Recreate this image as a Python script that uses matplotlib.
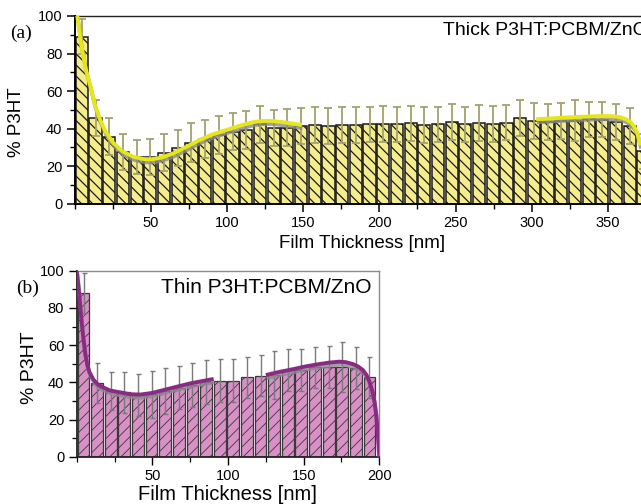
import numpy as np
import matplotlib
matplotlib.use("Agg")
import matplotlib.pyplot as plt
import matplotlib.patheffects as pe
from matplotlib.ticker import MultipleLocator

# ---------------- data ----------------
bin_width = 9.0
# (a) thick film
thick_vals = [89, 45.5, 35.7, 27.5, 24.8, 25, 27.2, 29.5, 32.5, 34.5,
              36.6, 38.4, 39.3, 42.3, 40.5, 40.5, 41.4, 41.9, 41.4, 41.9,
              41.9, 42.3, 42.6, 42.3, 42.8, 41.8, 42.3, 43.4, 42.3, 42.8,
              42.5, 43.2, 45.5, 44.2, 43.7, 44.1, 44.2, 45.0, 44.8, 43.7,
              41.6, 27.9]
thick_err = [9.4, 9.5, 9.8, 9.5, 9.2, 9.5, 9.8, 9.5, 10.5, 10.1,
             10.1, 9.9, 9.9, 9.7, 9.6, 9.7, 9.8, 9.8, 9.4, 9.7,
             9.7, 9.4, 9.5, 9.4, 9.5, 9.6, 9.4, 9.6, 9.4, 9.6,
             9.7, 9.4, 9.6, 9.6, 9.6, 9.7, 11.0, 9.3, 9.5, 9.6,
             9.6, 9.5]
thick_fit1_x = [1.5, 4, 7, 10, 13, 16.4, 20, 25, 31, 38.3, 45, 50, 57, 64.6,
                72, 82, 90, 100.7, 110, 118, 124, 129, 135, 142, 149]
thick_fit1_y = [100, 85, 72, 63, 53, 45, 38.5, 32.5, 28, 25, 23.8, 23.6, 24.6,
                26.8, 29.8, 34.0, 36.8, 39.6, 42.0, 43.6, 44.1, 44.1, 43.6,
                42.8, 41.9]
thick_fit2_x = [303, 314, 324, 335, 346, 353, 358, 362, 365, 367.5, 369.5, 371.5]
thick_fit2_y = [45.0, 45.5, 46.0, 46.4, 46.7, 46.6, 46.1, 45.0, 43.5, 41.0, 37.5, 31.0]

# (b) thin film
thin_vals = [87.8, 39.5, 35.3, 34.6, 33.2, 33.5, 35.3, 37.1, 38.5, 40.3,
             40.9, 40.9, 42.7, 43.6, 43.9, 46.6, 46.6, 48.1, 48.1, 48.4,
             47.5, 42.7]
thin_err = [10.8, 10.7, 10.4, 11.1, 11.1, 12.6, 12.6, 11.7, 12.0, 11.7,
            11.5, 11.5, 11.1, 11.1, 12.9, 11.1, 11.1, 11.0, 11.4, 13.4,
            11.3, 11.1]
thin_fit1_x = [0, 1.2, 2.2, 3.3, 4.4, 5.7, 7, 8.4, 11, 14, 17.7, 22, 28.7, 35,
               42, 50, 59.7, 67, 75, 82, 90.5]
thin_fit1_y = [100, 91, 82, 72, 63.6, 55, 49.3, 45.5, 41.5, 38.8, 37.2, 35.6,
               34.6, 33.6, 33.4, 34.3, 36.3, 37.8, 39.4, 40.5, 41.8]
thin_fit2_x = [125, 134, 142.7, 151, 160.3, 167, 173.6, 178, 182.5, 186,
               189.1, 191.5, 193.5, 195.3, 196.8, 198, 199, 199.6, 200]
thin_fit2_y = [43.9, 45.6, 47.0, 48.5, 49.8, 50.6, 51.1, 50.8, 49.8, 48.5,
               46.6, 44.0, 40.3, 35.5, 29.6, 22, 12, 5, 0]

thick_x = [bin_width / 2 + bin_width * i for i in range(len(thick_vals))]
thin_x = [bin_width / 2 + bin_width * i for i in range(len(thin_vals))]

# ---------------- figure ----------------
plt.rcParams['font.family'] = ['Liberation Sans', 'DejaVu Sans']
fig = plt.figure(figsize=(6.41, 5.04), dpi=100)

W, H = 641.0, 504.0

def ax_at(x0, x1, ytop, ybot):
    return fig.add_axes([x0 / W, 1 - ybot / H, (x1 - x0) / W, (ybot - ytop) / H])

shadow = [pe.SimpleLineShadow(offset=(0.5, -2.2), shadow_color='#8a8a8a', alpha=0.8),
          pe.Normal()]

# --- panel (a) ---
ax1 = ax_at(75, 75 + 380 * 1.522, 16, 203.7)
with plt.rc_context({'hatch.linewidth': 0.9}):
    ax1.bar(thick_x, thick_vals, width=8.0, color='#f5ed8c', edgecolor='#1a1a1a',
            linewidth=1.1, hatch='\\\\\\', zorder=2)
ax1.errorbar(thick_x, thick_vals, yerr=thick_err, fmt='none', ecolor='#a3a36c',
             elinewidth=1.3, capsize=3.2, capthick=1.3, zorder=3)
for fx, fy in [(thick_fit1_x, thick_fit1_y), (thick_fit2_x, thick_fit2_y)]:
    ax1.plot(fx, fy, color='#e6e619', lw=2.8, solid_capstyle='butt', zorder=4,
             path_effects=shadow)
ax1.set_xlim(0, 380)
ax1.set_ylim(0, 100)
ax1.xaxis.set_minor_locator(MultipleLocator(25))
ax1.yaxis.set_major_locator(MultipleLocator(20))
ax1.yaxis.set_minor_locator(MultipleLocator(10))
ax1.set_xticks([50, 100, 150, 200, 250, 300, 350])
ax1.tick_params(axis='both', which='major', direction='out', length=6, width=1.1,
                labelsize=10.5, pad=3)
ax1.tick_params(axis='both', which='minor', direction='out', length=3.5, width=1.0)
ax1.spines['right'].set_visible(False)
for s in ['left', 'bottom']:
    ax1.spines[s].set_linewidth(1.4)
    ax1.spines[s].set_color('black')
ax1.spines['top'].set_linewidth(1.0)
ax1.spines['top'].set_color('#222222')
ax1.text(241.6, 92.5, 'Thick P3HT:PCBM/ZnO', fontsize=14, ha='left', va='center',
         clip_on=False)

# --- panel (b) ---
ax2 = ax_at(76.7, 379.3, 270.7, 456.7)
with plt.rc_context({'hatch.linewidth': 0.6}):
    ax2.bar(thin_x, thin_vals, width=7.8, color='#d890c6', edgecolor='#3a3a3a',
            linewidth=0.9, hatch='///', zorder=2)
ax2.errorbar(thin_x, thin_vals, yerr=thin_err, fmt='none', ecolor='#7a7a7a',
             elinewidth=1.0, capsize=1.8, capthick=1.0, zorder=3)
for fx, fy in [(thin_fit1_x, thin_fit1_y), (thin_fit2_x, thin_fit2_y)]:
    ax2.plot(fx, fy, color='#8b2a84', lw=2.8, solid_capstyle='butt', zorder=4,
             path_effects=shadow)
ax2.set_xlim(0, 200)
ax2.set_ylim(0, 100)
ax2.set_xticks([50, 100, 150, 200])
ax2.xaxis.set_minor_locator(MultipleLocator(25))
ax2.yaxis.set_major_locator(MultipleLocator(20))
ax2.yaxis.set_minor_locator(MultipleLocator(10))
ax2.tick_params(axis='both', which='major', direction='out', length=6, width=1.0,
                labelsize=10.5, pad=3)
ax2.tick_params(axis='both', which='minor', direction='out', length=3.5, width=0.9)
for s in ['left', 'bottom']:
    ax2.spines[s].set_linewidth(1.3)
    ax2.spines[s].set_color('#222222')
for s in ['top', 'right']:
    ax2.spines[s].set_linewidth(1.0)
    ax2.spines[s].set_color('#8c8c8c')
ax2.text(56, 90.7, 'Thin P3HT:PCBM/ZnO', fontsize=15, ha='left', va='center')

# --- labels ---
fig.text(16.5 / W, 1 - 122 / H, '% P3HT', rotation=90, fontsize=13.5,
         ha='center', va='center')
fig.text(30 / W, 1 - 368 / H, '% P3HT', rotation=90, fontsize=14,
         ha='center', va='center')
fig.text(362 / W, 1 - 243 / H, 'Film Thickness [nm]', fontsize=13.5,
         ha='center', va='center')
fig.text(227 / W, 1 - 494 / H, 'Film Thickness [nm]', fontsize=14.5,
         ha='center', va='center')
fig.text(21 / W, 1 - 33 / H, '(a)', fontsize=14, family='Liberation Serif',
         ha='center', va='center')
fig.text(27.5 / W, 1 - 288 / H, '(b)', fontsize=14, family='Liberation Serif',
         ha='center', va='center')

fig.savefig('out.png', dpi=100)
